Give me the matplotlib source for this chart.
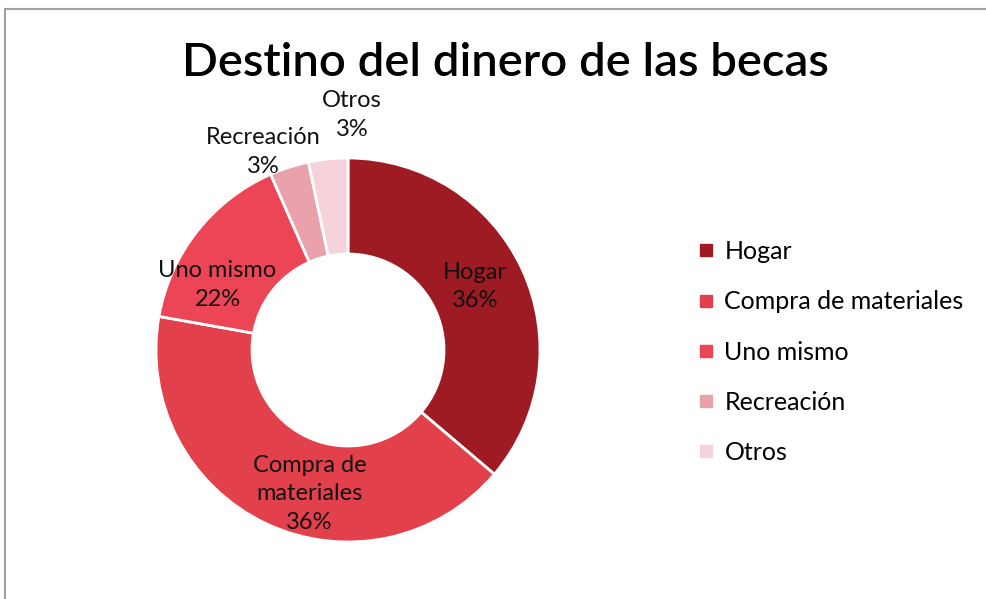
import matplotlib.pyplot as plt
from matplotlib.lines import Line2D

# data
categories = ["Hogar", "Compra de materiales", "Uno mismo", "Recreación", "Otros"]
values = [36.2, 41.6, 15.6, 3.3, 3.3]          # wedge sizes as drawn
pct_labels = ["36%", "36%", "22%", "3%", "3%"]  # percentages as printed
slice_texts = ["Hogar", "Compra de\nmateriales", "Uno mismo", "Recreación", "Otros"]
colors = ["#9e1b24", "#e2414c", "#ec4656", "#e9a2ac", "#f6d2da"]

plt.rcParams['font.family'] = ['Lato', 'DejaVu Sans']

fig = plt.figure(figsize=(9.86, 5.99), dpi=100)

# grey frame (top and left edge visible)
fig.add_artist(Line2D([5 / 986, 1], [1 - 9 / 599, 1 - 9 / 599], color="#a0a0a0", lw=1.5))
fig.add_artist(Line2D([5 / 986, 5 / 986], [0, 1 - 9 / 599], color="#a0a0a0", lw=1.5))

fig.text(505 / 986, 1 - 63 / 599, "Destino del dinero de las becas",
         ha="center", va="center", fontsize=34, fontweight="semibold", color="black")

# donut
cx, cy, r = 348, 350, 192
ax = fig.add_axes([(cx - r) / 986, (599 - cy - r) / 599, 2 * r / 986, 2 * r / 599])
wedges, _ = ax.pie(values, colors=colors, startangle=90, counterclock=False,
                   radius=1, wedgeprops=dict(width=0.5, edgecolor="white", linewidth=2))
ax.set_xlim(-1, 1)
ax.set_ylim(-1, 1)
ax.set_aspect("equal")
ax.axis("off")

# label placement (data coords of the donut)
label_pos = [(0.66, 0.33), (-0.20, -0.75), (-0.68, 0.34), (-0.44, 1.03), (0.02, 1.225)]
for txt, pct, (x, y) in zip(slice_texts, pct_labels, label_pos):
    ax.text(x, y, f"{txt}\n{pct}", ha="center", va="center", fontsize=17,
            color="#111111", linespacing=1.45, clip_on=False)

handles = [Line2D([], [], marker="s", linestyle="none", markersize=9,
                  markerfacecolor=c, markeredgecolor=c) for c in colors]
fig.legend(handles, categories, loc="upper left", bbox_to_anchor=(687 / 986, 1 - 230 / 599),
           frameon=False, fontsize=18, handlelength=0.7, handletextpad=0.4,
           labelspacing=1.09, borderaxespad=0)

fig.savefig("out.png", dpi=100, facecolor="white")
